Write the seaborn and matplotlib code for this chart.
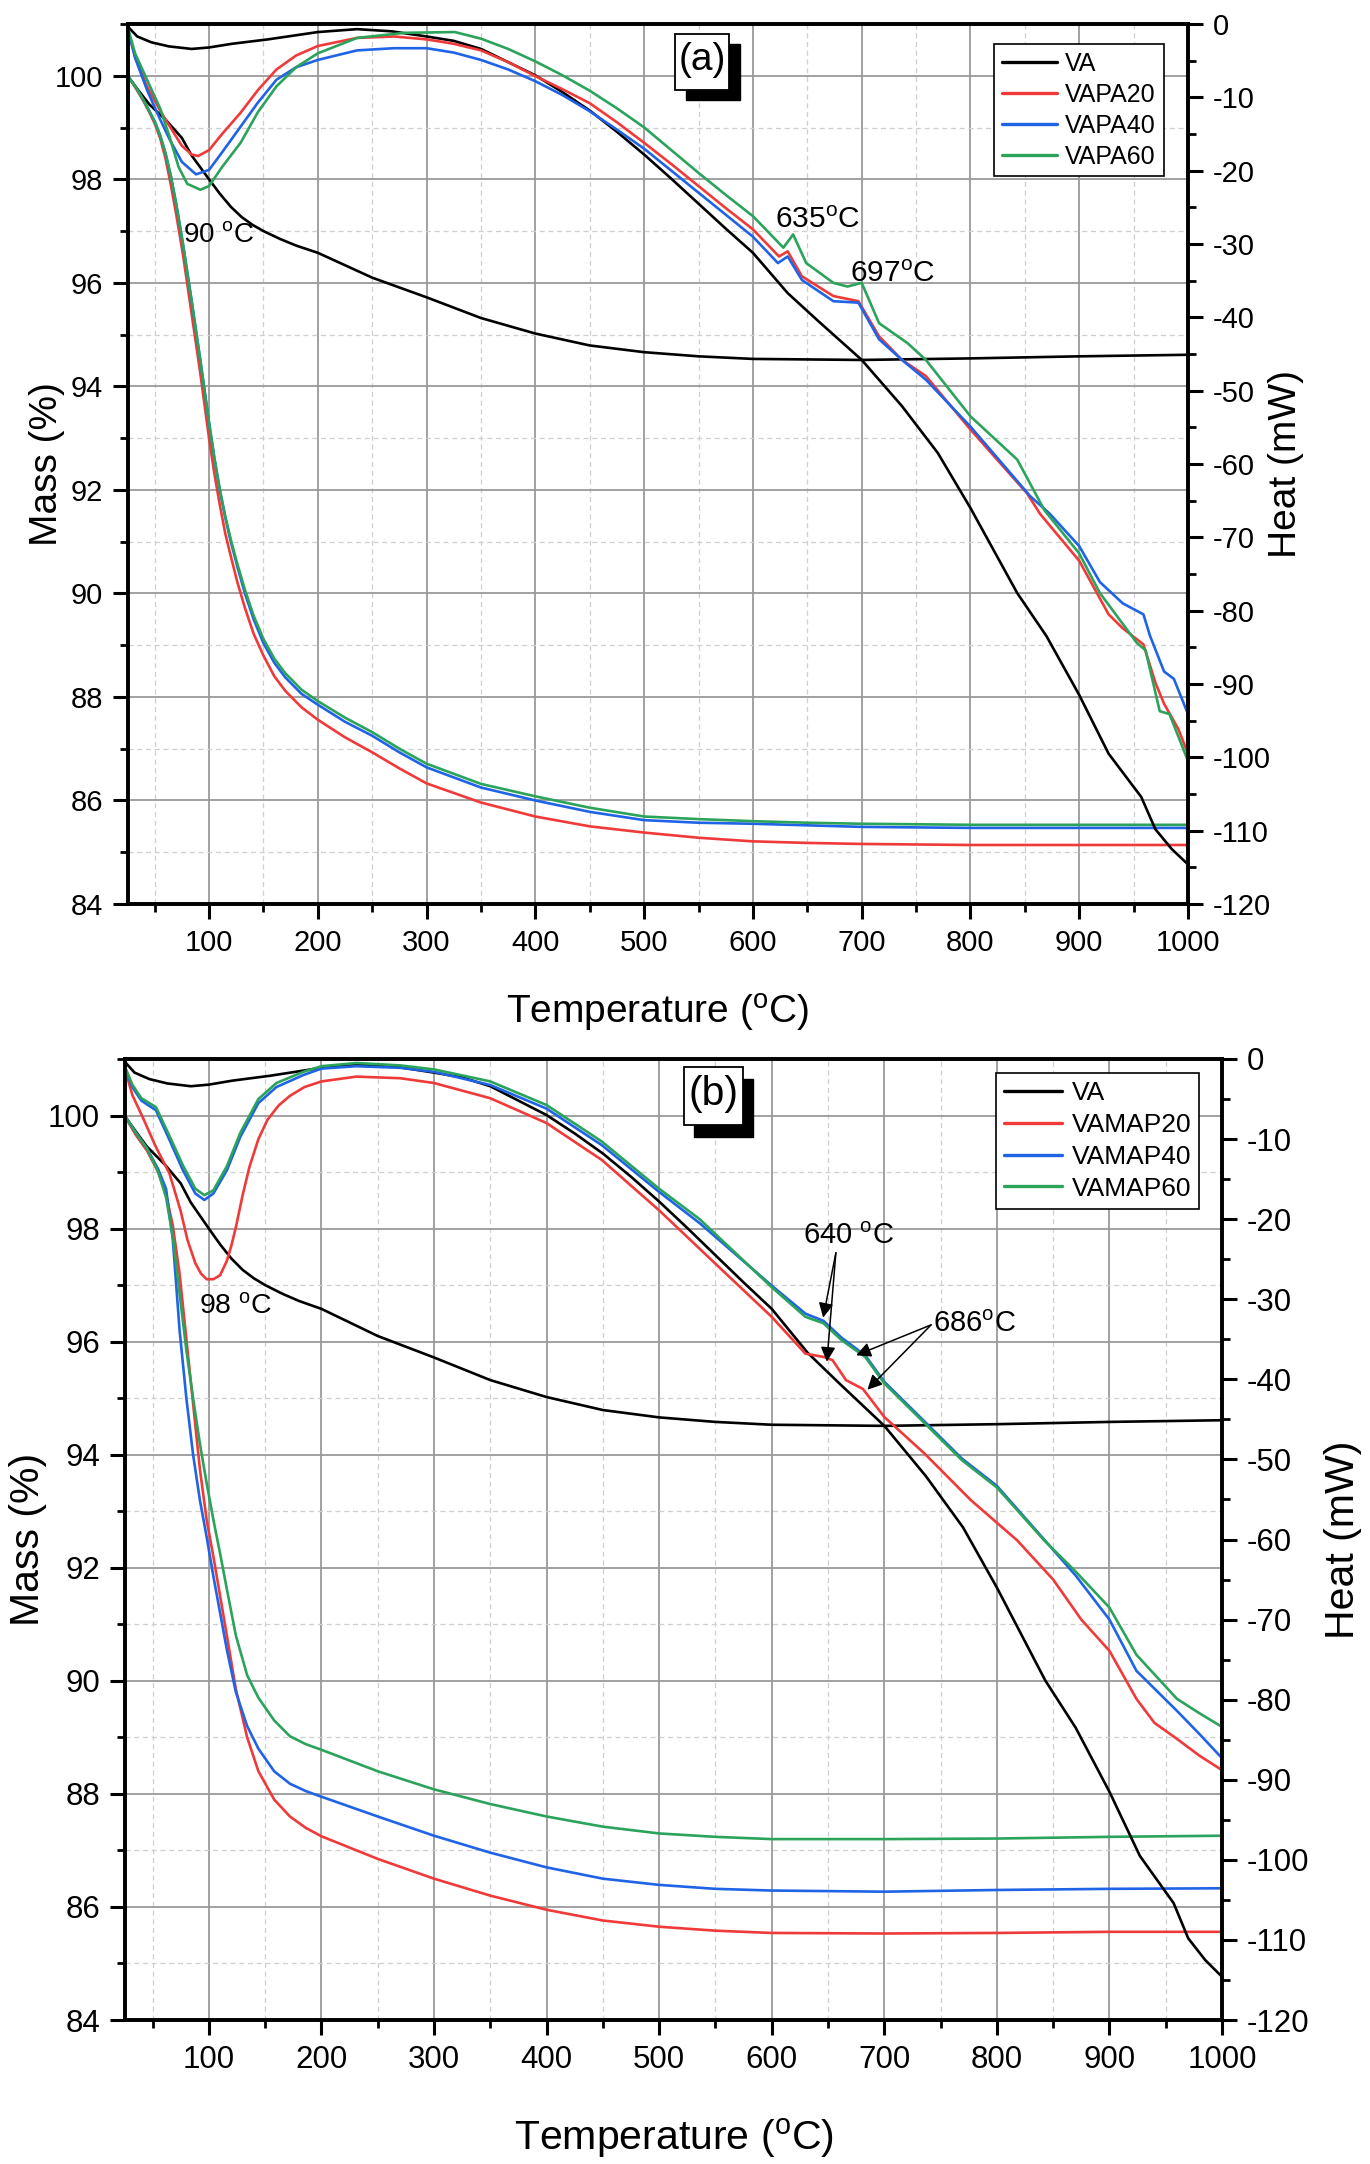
import matplotlib
matplotlib.use("Agg")
import matplotlib.pyplot as plt
import seaborn as sns
from matplotlib.patches import Rectangle
from matplotlib.ticker import MultipleLocator

# ---------------- DATA ----------------
# VA (same sample in both panels)
va_tg_T = [25, 35, 45, 61, 75, 84, 100, 110, 120, 130, 140, 150, 165, 180, 200, 250, 300, 350, 400, 450, 500, 550, 600, 700, 800, 900, 1000]
va_tg = [100.0, 99.72, 99.45, 99.13, 98.8, 98.46, 98.0, 97.72, 97.47, 97.27, 97.12, 97.0, 96.85, 96.72, 96.58, 96.1, 95.72, 95.32, 95.02, 94.79, 94.66, 94.58, 94.53, 94.51, 94.54, 94.58, 94.61]
va_dsc_T = [25, 34, 47, 63, 84, 100, 121, 154, 200, 236, 268, 300, 325, 350, 375, 400, 425, 450, 475, 500, 525, 550, 575, 600, 632, 660, 700, 737, 770, 800, 843, 870, 900, 927, 957, 970, 985, 1000]
va_dsc = [-0.3, -1.7, -2.5, -3.05, -3.4, -3.2, -2.7, -2.1, -1.1, -0.7, -1.0, -1.7, -2.3, -3.4, -5.2, -7.0, -9.3, -11.8, -14.7, -17.8, -21.1, -24.5, -27.9, -31.2, -36.7, -40.5, -45.8, -52.1, -58.5, -66.0, -77.6, -83.5, -91.5, -99.5, -105.4, -109.8, -112.5, -114.6]

# Panel (a): VAPA series (mass)
a_tg_T = [25, 30, 35, 40, 45, 50, 55, 60, 65, 70, 76, 84, 92, 100, 105, 110, 115, 120, 126, 133, 141, 150, 160, 170, 185, 200, 225, 250, 275, 300, 350, 400, 450, 500, 550, 600, 650, 700, 800, 900, 1000]
a_tg_20 = [100, 99.85, 99.68, 99.5, 99.3, 99.08, 98.8, 98.4, 97.88, 97.3, 96.55, 95.4, 94.25, 93.0, 92.3, 91.7, 91.15, 90.72, 90.22, 89.72, 89.22, 88.8, 88.4, 88.12, 87.8, 87.56, 87.22, 86.93, 86.62, 86.33, 85.96, 85.69, 85.5, 85.38, 85.28, 85.21, 85.18, 85.16, 85.14, 85.14, 85.14]
a_tg_40 = [100, 99.86, 99.7, 99.52, 99.32, 99.12, 98.85, 98.5, 98.05, 97.5, 96.75, 95.65, 94.5, 93.3, 92.6, 91.98, 91.46, 91.0, 90.52, 90.0, 89.5, 89.04, 88.66, 88.38, 88.06, 87.85, 87.52, 87.25, 86.93, 86.64, 86.25, 86.0, 85.78, 85.62, 85.57, 85.55, 85.52, 85.49, 85.47, 85.47, 85.47]
a_tg_60 = [100, 99.86, 99.7, 99.52, 99.32, 99.12, 98.85, 98.5, 98.05, 97.5, 96.75, 95.65, 94.5, 93.3, 92.6, 92.0, 91.48, 91.04, 90.57, 90.07, 89.57, 89.12, 88.74, 88.46, 88.14, 87.92, 87.6, 87.32, 87.0, 86.71, 86.32, 86.08, 85.86, 85.69, 85.64, 85.6, 85.57, 85.55, 85.53, 85.53, 85.53]

# Panel (a): VAPA series (heat flow)
a_dsc20_T = [25, 32, 43, 55, 64, 75, 84, 90, 100, 112, 129, 145, 162, 180, 200, 236, 270, 300, 325, 350, 375, 400, 425, 450, 475, 500, 525, 550, 575, 600, 624, 632, 645, 674, 697, 716, 737, 759, 800, 852, 864, 900, 927, 940, 959, 970, 978, 991, 1000]
a_dsc20 = [-0.5, -4.5, -8.5, -11.8, -14.0, -16.6, -17.8, -18.0, -17.2, -15.0, -12.1, -9.0, -6.2, -4.3, -3.0, -1.9, -1.7, -2.1, -2.7, -3.6, -5.2, -7.1, -8.9, -10.8, -13.4, -16.2, -19.1, -22.1, -25.1, -28.0, -31.7, -31.0, -34.4, -37.1, -37.8, -42.6, -45.8, -48.0, -55.3, -64.0, -66.8, -73.2, -80.5, -82.4, -84.6, -89.8, -92.7, -96.1, -99.5]
a_dsc40_T = [25, 32, 43, 55, 64, 75, 88, 100, 112, 129, 145, 162, 180, 200, 236, 270, 300, 325, 350, 375, 400, 425, 450, 475, 500, 525, 550, 575, 600, 623, 632, 645, 674, 697, 716, 737, 759, 800, 855, 873, 900, 919, 940, 959, 965, 978, 987, 1000]
a_dsc40 = [-0.5, -4.6, -9.0, -13.0, -15.8, -18.8, -20.5, -19.9, -17.5, -14.0, -10.7, -7.6, -5.9, -4.9, -3.6, -3.3, -3.3, -3.9, -4.9, -6.2, -7.8, -9.7, -11.9, -14.4, -17.0, -20.0, -23.0, -26.0, -29.0, -32.6, -31.7, -34.9, -37.8, -38.0, -43.0, -45.8, -48.5, -54.9, -64.4, -66.8, -71.2, -76.1, -79.0, -80.5, -83.4, -88.3, -89.3, -94.1]
a_dsc60_T = [25, 32, 43, 55, 64, 72, 80, 92, 100, 112, 129, 145, 162, 180, 200, 236, 280, 326, 350, 375, 400, 425, 450, 475, 500, 525, 550, 575, 600, 628, 637, 649, 674, 687, 700, 716, 742, 759, 800, 843, 868, 900, 919, 953, 961, 974, 983, 1000]
a_dsc60 = [-0.3, -4.0, -7.6, -11.5, -15.5, -19.5, -21.8, -22.6, -22.1, -19.5, -16.2, -12.0, -8.5, -5.9, -4.0, -1.9, -1.2, -1.1, -2.0, -3.4, -5.1, -7.0, -9.1, -11.5, -14.1, -17.2, -20.3, -23.3, -26.2, -30.5, -28.7, -32.6, -35.3, -35.8, -35.3, -40.8, -43.5, -45.8, -53.5, -59.4, -66.3, -72.2, -77.6, -84.4, -85.4, -93.7, -94.1, -100.5]

# Panel (b): VAMAP series (mass)
b_tg_T = [25, 35, 45, 55, 62, 68, 74, 80, 86, 92, 98, 104, 110, 116, 124, 134, 144, 158, 172, 186, 200, 250, 300, 350, 400, 450, 500, 550, 600, 700, 800, 900, 1000]
b_tg_20 = [100, 99.66, 99.38, 99.0, 98.6, 98.05, 97.2, 96.05, 94.9, 93.75, 92.85, 92.2, 91.5, 90.8, 89.85, 89.0, 88.4, 87.9, 87.6, 87.4, 87.25, 86.85, 86.5, 86.2, 85.95, 85.76, 85.65, 85.58, 85.54, 85.53, 85.54, 85.56, 85.56]
b_tg_40 = [100, 99.7, 99.42, 99.05, 98.7, 97.8, 96.2, 95.0, 94.0, 93.2, 92.55, 91.85, 91.2, 90.55, 89.8, 89.2, 88.8, 88.4, 88.18, 88.05, 87.95, 87.6, 87.26, 86.96, 86.7, 86.5, 86.39, 86.32, 86.29, 86.27, 86.3, 86.32, 86.33]
b_tg_60 = [100, 99.7, 99.42, 99.0, 98.55, 97.85, 96.85, 95.85, 95.0, 94.2, 93.5, 92.85, 92.25, 91.62, 90.8, 90.1, 89.7, 89.3, 89.02, 88.88, 88.78, 88.4, 88.08, 87.82, 87.6, 87.42, 87.3, 87.24, 87.2, 87.2, 87.21, 87.24, 87.26]

# Panel (b): VAMAP series (heat flow)
b_dsc20_T = [25, 32, 41, 53, 65, 75, 81, 88, 93, 98, 104, 110, 116, 120, 124, 130, 136, 144, 152, 162, 172, 185, 200, 231, 270, 300, 350, 400, 449, 500, 536, 600, 630, 646, 654, 666, 681, 700, 736, 777, 818, 850, 875, 900, 924, 940, 960, 980, 1000]
b_dsc20 = [-1.0, -4.5, -7.2, -11.0, -14.3, -19.0, -22.6, -25.5, -26.8, -27.5, -27.5, -27.0, -25.2, -23.3, -21.0, -17.0, -13.5, -10.0, -7.6, -5.8, -4.6, -3.5, -2.8, -2.2, -2.4, -3.0, -4.9, -8.0, -12.6, -18.9, -23.7, -32.2, -36.8, -37.2, -37.6, -40.1, -41.2, -44.7, -49.3, -55.1, -60.1, -65.0, -70.0, -73.9, -79.9, -82.9, -84.9, -87.0, -88.8]
b_dsc_T = [25, 32, 40, 53, 65, 77, 88, 96, 104, 116, 128, 144, 160, 184, 200, 231, 270, 300, 350, 400, 449, 500, 536, 600, 630, 646, 662, 683, 700, 736, 769, 800, 842, 870, 900, 924, 960, 980, 1000]
b_dsc40 = [-1.0, -3.5, -5.2, -6.4, -10.1, -13.9, -16.8, -17.6, -16.8, -13.9, -9.7, -5.5, -3.5, -2.0, -1.2, -0.9, -1.1, -1.6, -3.25, -6.2, -10.75, -16.6, -20.5, -28.3, -31.8, -32.7, -34.8, -37.0, -40.3, -45.3, -49.9, -53.3, -60.0, -64.5, -70.0, -76.4, -81.4, -84.3, -87.3]
b_dsc60 = [-0.8, -3.2, -4.9, -6.0, -9.6, -13.3, -16.2, -17.0, -16.4, -13.4, -9.2, -5.0, -3.0, -1.6, -0.9, -0.5, -0.8, -1.3, -2.8, -5.75, -10.3, -16.2, -20.0, -28.5, -32.2, -33.0, -35.1, -37.2, -40.5, -45.5, -50.1, -53.5, -60.1, -64.0, -68.5, -74.4, -79.9, -81.7, -83.4]

names_a = ["VA", "VAPA20", "VAPA40", "VAPA60"]
names_b = ["VA", "VAMAP20", "VAMAP40", "VAMAP60"]
colors = ["#000000", "#f03a3a", "#1f63e6", "#2ba35b"]

# ---------------- STYLE ----------------
sns.set_theme(style="white")
plt.rcParams["font.family"] = ["Liberation Sans", "DejaVu Sans"]
plt.rcParams["mathtext.fontset"] = "custom"
plt.rcParams["mathtext.rm"] = "Liberation Sans"
plt.rcParams["mathtext.default"] = "regular"
plt.rcParams["axes.unicode_minus"] = False
for key in ["text.color", "axes.labelcolor", "xtick.color", "ytick.color", "axes.edgecolor"]:
    plt.rcParams[key] = "black"

fig = plt.figure(figsize=(13.7, 21.64), dpi=100)
LW = 1.9


def style_axes(ax, ax2, fs):
    ax.set_xlim(25.5, 1000)
    ax.set_ylim(84, 101.0)
    ax2.set_ylim(-120, 0)
    ax.xaxis.set_major_locator(MultipleLocator(100))
    ax.xaxis.set_minor_locator(MultipleLocator(50))
    ax.yaxis.set_major_locator(MultipleLocator(2))
    ax.yaxis.set_minor_locator(MultipleLocator(1))
    ax2.yaxis.set_major_locator(MultipleLocator(10))
    ax2.yaxis.set_minor_locator(MultipleLocator(5))
    ax.grid(which="major", color="#9a9a9a", lw=1.3, ls="-")
    ax.grid(which="minor", color="#cfcfcf", lw=0.9, ls=(0, (4, 3)))
    ax.set_axisbelow(True)
    for a in (ax, ax2):
        for s in a.spines.values():
            s.set_linewidth(2.6)
            s.set_color("black")
    ax.tick_params(axis="both", which="major", direction="out", length=11, width=2.2,
                   labelsize=fs, pad=7, colors="black", left=True, bottom=True, top=False, right=False)
    ax.tick_params(axis="both", which="minor", direction="out", length=6, width=2.0,
                   left=True, bottom=True, top=False, right=False)
    ax2.tick_params(axis="y", which="major", direction="out", length=11, width=2.2,
                    labelsize=fs, pad=7, colors="black", right=True)
    ax2.tick_params(axis="y", which="minor", direction="out", length=6, width=2.0, right=True)


def panel_box(ax, x0, y0, x1, y1, dx, dy, text, fs):
    w, h = x1 - x0, y1 - y0
    ax.add_patch(Rectangle((x0 + dx, y0 - dy), w, h, transform=ax.transAxes,
                           fc="black", ec="black", zorder=20, clip_on=False))
    ax.add_patch(Rectangle((x0, y0), w, h, transform=ax.transAxes,
                           fc="white", ec="black", lw=1.3, zorder=21, clip_on=False))
    ax.text((x0 + x1) / 2, (y0 + y1) / 2 + 0.002, text, transform=ax.transAxes,
            ha="center", va="center", fontsize=fs, color="black", zorder=22)


def draw_panel(rect, tg_sets, dsc_sets, names, xlab_y, mass_x, heat_x, tick_fs, lab_fs):
    ax = fig.add_axes(rect)
    ax2 = ax.twinx()
    for (T, v), c in zip(tg_sets, colors):
        sns.lineplot(x=T, y=v, ax=ax, color=c, lw=LW, estimator=None, sort=False, legend=False)
    for (T, v), c, n in zip(dsc_sets, colors, names):
        sns.lineplot(x=T, y=v, ax=ax2, color=c, lw=LW, estimator=None, sort=False, label=n)
    style_axes(ax, ax2, tick_fs)
    ax.set_xlabel("Temperature ($^{o}$C)", fontsize=lab_fs)
    ax.xaxis.set_label_coords(0.5, xlab_y)
    ax.xaxis.label.set_va("baseline")
    ax.set_ylabel("Mass (%)", fontsize=lab_fs)
    ax.yaxis.set_label_coords(mass_x, 0.5)
    ax.yaxis.label.set_va("center")
    ax2.set_ylabel("Heat (mW)", fontsize=lab_fs, rotation=90)
    ax2.yaxis.set_label_coords(heat_x, 0.5)
    ax2.yaxis.label.set_va("center")
    return ax, ax2


# ---------------- PANEL (a) ----------------
rect_a = [128 / 1370, 1 - 904 / 2164, 1060 / 1370, 880 / 2164]
ax_a, ax2_a = draw_panel(
    rect_a,
    [(va_tg_T, va_tg), (a_tg_T, a_tg_20), (a_tg_T, a_tg_40), (a_tg_T, a_tg_60)],
    [(va_dsc_T, va_dsc), (a_dsc20_T, a_dsc20), (a_dsc40_T, a_dsc40), (a_dsc60_T, a_dsc60)],
    names_a, -0.1364, -0.076, 1.092, 21, 28)
leg = ax2_a.legend(handles=ax2_a.lines[:4], labels=names_a, loc="upper right",
                   bbox_to_anchor=(0.977, 0.977), frameon=True, fancybox=False,
                   edgecolor="black", framealpha=1, fontsize=18, handlelength=2.2,
                   handletextpad=0.35, labelspacing=0.28, borderpad=0.3, borderaxespad=0)
leg.get_frame().set_linewidth(1.2)
for l in leg.get_lines():
    l.set_linewidth(2.4)
panel_box(ax2_a, 0.516, 0.925, 0.567, 0.9886, 0.0104, 0.0114, "(a)", 28)
ax_a.text(76, 96.79, "90 $^{o}$C", fontsize=20, ha="left", va="baseline", zorder=15)
ax2_a.text(620, -27.8, "635$^{o}$C", fontsize=21.5, ha="left", va="baseline", zorder=15)
ax2_a.text(689, -35.2, "697$^{o}$C", fontsize=21.5, ha="left", va="baseline", zorder=15)

# ---------------- PANEL (b) ----------------
rect_b = [125 / 1370, 1 - 2020 / 2164, 1097 / 1370, 961 / 2164]
ax_b, ax2_b = draw_panel(
    rect_b,
    [(va_tg_T, va_tg), (b_tg_T, b_tg_20), (b_tg_T, b_tg_40), (b_tg_T, b_tg_60)],
    [(va_dsc_T, va_dsc), (b_dsc20_T, b_dsc20), (b_dsc_T, b_dsc40), (b_dsc_T, b_dsc60)],
    names_b, -0.1342, -0.0884, 1.110, 22.5, 29.5)
leg = ax2_b.legend(handles=ax2_b.lines[:4], labels=names_b, loc="upper right",
                   bbox_to_anchor=(0.979, 0.9854), frameon=True, fancybox=False,
                   edgecolor="black", framealpha=1, fontsize=19, handlelength=2.2,
                   handletextpad=0.35, labelspacing=0.3, borderpad=0.3, borderaxespad=0)
leg.get_frame().set_linewidth(1.2)
for l in leg.get_lines():
    l.set_linewidth(2.4)
panel_box(ax2_b, 0.5096, 0.9313, 0.5634, 0.9917, 0.0091, 0.0125, "(b)", 29.5)
ax_b.text(91, 96.5, "98 $^{o}$C", fontsize=20.5, ha="left", va="baseline", zorder=15)
ax2_b.text(628, -23.1, "640 $^{o}$C", fontsize=21, ha="left", va="baseline", zorder=15)
ax2_b.text(743, -34.1, "686$^{o}$C", fontsize=21, ha="left", va="baseline", zorder=15)
arrow_kw = dict(arrowstyle="-|>", color="black", lw=1.1, mutation_scale=22, shrinkA=0, shrinkB=0)
for start, end in [((657, -24.2), (645.7, -32.3)), ((657, -24.2), (649, -37.8)),
                   ((741.6, -33.2), (675, -37.0)), ((741.6, -33.2), (685, -41.3))]:
    ax2_b.annotate("", xy=end, xytext=start, arrowprops=arrow_kw, zorder=16)

fig.savefig("out.png", dpi=100, facecolor="white")
